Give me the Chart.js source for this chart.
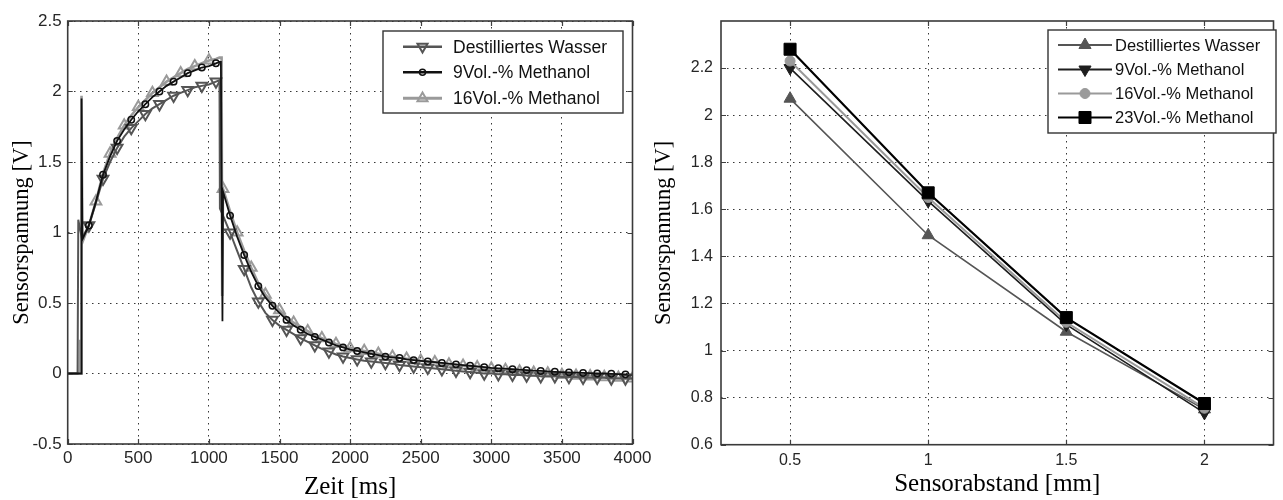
<!DOCTYPE html>
<html>
<head>
<meta charset="utf-8">
<script src="https://cdn.jsdelivr.net/npm/chart.js@4.4.1/dist/chart.umd.min.js"></script>
<style>
html,body{margin:0;padding:0;background:#fff;}
#wrap{position:relative;width:1283px;height:500px;overflow:hidden;background:#fff;}
#box1{position:absolute;left:0;top:0;width:660px;height:500px;}
#box2{position:absolute;left:650px;top:0;width:633px;height:500px;}
</style>
</head>
<body>
<div id="wrap">
  <div id="box1"><canvas id="c1"></canvas></div>
  <div id="box2"><canvas id="c2"></canvas></div>
</div>
<script>
// ---------- Left chart data (Zeit in ms, Sensorspannung in V) ----------
const zeit = [0,50,70,75,85,88,92,96,98,100,104,
  150,200,250,300,350,400,450,500,550,600,650,700,750,800,850,900,950,1000,1050,
  1075,1078,1085,1090,1094,1096,1100,
  1150,1200,1250,1300,1350,1400,1450,1500,1550,1600,
  1650,1700,1750,1800,1850,1900,1950,2000,2050,2100,
  2150,2200,2250,2300,2350,2400,2450,2500,2550,2600,
  2650,2700,2750,2800,2850,2900,2950,3000,3050,3100,
  3150,3200,3250,3300,3350,3400,3450,3500,3550,3600,
  3650,3700,3750,3800,3850,3900,3950,4000];

const wasserZeit = [0,0,0,1.09,null,null,null,null,null,0.96,null,
  1.05,1.21,1.38,1.50,1.60,1.68,1.74,1.79,1.84,1.88,1.91,1.94,1.97,1.99,2.01,2.03,2.04,2.05,2.07,
  2.08,1.17,null,null,null,null,1.12,
  1.0,0.87,0.74,0.61,0.51,0.43,0.38,0.34,0.31,0.28,
  0.25,0.225,0.20,0.175,0.155,0.135,0.12,0.11,0.10,0.09,
  0.085,0.08,0.075,0.07,0.06,0.055,0.05,0.045,0.04,0.035,
  0.03,0.025,0.02,0.015,0.01,0.005,0.0,0.0,-0.005,-0.005,
  -0.01,-0.01,-0.015,-0.015,-0.02,-0.02,-0.02,-0.025,-0.025,-0.025,
  -0.03,-0.03,-0.03,-0.03,-0.035,-0.035,-0.035,-0.035];

const methanol9Zeit = [0,0,0,null,null,null,null,0,1.95,null,0.95,
  1.05,1.22,1.41,1.54,1.65,1.73,1.80,1.86,1.91,1.96,2.00,2.04,2.07,2.10,2.13,2.15,2.17,2.18,2.20,
  2.21,null,2.21,null,null,0.37,1.29,
  1.12,0.97,0.84,0.72,0.62,0.54,0.48,0.43,0.38,0.34,
  0.31,0.28,0.26,0.24,0.22,0.20,0.185,0.17,0.16,0.15,
  0.14,0.13,0.12,0.115,0.11,0.10,0.095,0.09,0.085,0.08,
  0.075,0.07,0.065,0.06,0.055,0.05,0.045,0.04,0.037,0.034,
  0.03,0.027,0.024,0.02,0.018,0.015,0.012,0.01,0.008,0.006,
  0.004,0.002,0.0,0.0,-0.002,-0.004,-0.006,-0.008];

const methanol16Zeit = [0,0,0,null,0,0.24,0,0,1.97,null,0.93,
  1.05,1.22,1.42,1.56,1.67,1.76,1.83,1.89,1.94,1.99,2.03,2.07,2.10,2.13,2.16,2.18,2.20,2.22,2.23,
  2.24,null,2.24,2.24,0.55,null,1.31,
  1.15,1.0,0.87,0.75,0.64,0.56,0.50,0.45,0.40,0.36,
  0.33,0.30,0.27,0.25,0.23,0.21,0.195,0.18,0.17,0.16,
  0.15,0.14,0.13,0.12,0.11,0.105,0.10,0.09,0.085,0.08,
  0.07,0.065,0.06,0.055,0.05,0.045,0.04,0.035,0.03,0.025,
  0.02,0.015,0.01,0.005,0.0,0.0,-0.005,-0.01,-0.01,-0.015,
  -0.02,-0.02,-0.025,-0.025,-0.03,-0.03,-0.035,-0.035];

const zeitTicks = [0,500,1000,1500,2000,2500,3000,3500,4000];
const zeitTickLabels = ['0','500','1000','1500','2000','2500','3000','3500','4000'];
const spannungTicks1 = [-0.5,0,0.5,1,1.5,2,2.5];
const spannungTickLabels1 = ['-0.5','0','0.5','1','1.5','2','2.5'];
const legend1 = ['Destilliertes Wasser','9Vol.-% Methanol','16Vol.-% Methanol'];

// ---------- Right chart data (Sensorabstand in mm) ----------
const abstand = [0.5, 1, 1.5, 2];
const wasserAbstand = [2.07, 1.49, 1.08, 0.75];
const methanol9Abstand = [2.20, 1.635, 1.11, 0.735];
const methanol16Abstand = [2.23, 1.65, 1.12, 0.755];
const methanol23Abstand = [2.28, 1.67, 1.14, 0.775];
const abstandTicks = [0.5, 1, 1.5, 2];
const abstandTickLabels = ['0.5','1','1.5','2'];
const spannungTicks2 = [0.6,0.8,1,1.2,1.4,1.6,1.8,2,2.2];
const spannungTickLabels2 = ['0.6','0.8','1','1.2','1.4','1.6','1.8','2','2.2'];
const legend2 = ['Destilliertes Wasser','9Vol.-% Methanol','16Vol.-% Methanol','23Vol.-% Methanol'];

// ---------- helpers ----------
const SANS = "'Liberation Sans', Arial, sans-serif";
const SERIF = "'Liberation Serif', 'Times New Roman', serif";

function drawMarker(ctx, style, rot, r, x, y, fill, stroke, bw) {
  ctx.save();
  ctx.translate(x, y);
  ctx.rotate((rot || 0) * Math.PI / 180);
  ctx.beginPath();
  if (style === 'triangle') {
    ctx.moveTo(0, -r);
    ctx.lineTo(r * Math.sin(2 * Math.PI / 3), -r * Math.cos(2 * Math.PI / 3));
    ctx.lineTo(r * Math.sin(4 * Math.PI / 3), -r * Math.cos(4 * Math.PI / 3));
    ctx.closePath();
  } else if (style === 'rect') {
    const s = r * Math.SQRT1_2;
    ctx.rect(-s, -s, 2 * s, 2 * s);
  } else {
    ctx.arc(0, 0, r, 0, Math.PI * 2);
  }
  ctx.fillStyle = fill;
  ctx.fill();
  ctx.strokeStyle = stroke;
  ctx.lineWidth = bw;
  ctx.stroke();
  ctx.restore();
}

function framePlugin(cfg) {
  return {
    id: 'frame' + cfg.name,
    afterDraw(chart) {
      const ctx = chart.ctx, a = chart.chartArea, sx = chart.scales.x, sy = chart.scales.y;
      ctx.save();
      ctx.strokeStyle = '#404040';
      ctx.lineWidth = 1.2;
      ctx.beginPath();
      const L = 5;
      sx.ticks.forEach(t => {
        const p = Math.round(sx.getPixelForValue(t.value)) + 0.5;
        ctx.moveTo(p, a.bottom); ctx.lineTo(p, a.bottom - L);
        ctx.moveTo(p, a.top); ctx.lineTo(p, a.top + L);
      });
      sy.ticks.forEach(t => {
        const p = Math.round(sy.getPixelForValue(t.value)) + 0.5;
        ctx.moveTo(a.left, p); ctx.lineTo(a.left + L, p);
        ctx.moveTo(a.right, p); ctx.lineTo(a.right - L, p);
      });
      ctx.stroke();
      ctx.strokeStyle = '#3a3a3a';
      ctx.lineWidth = 1.6;
      ctx.strokeRect(a.left, a.top, a.right - a.left, a.bottom - a.top);
      const lg = cfg.legend;
      ctx.fillStyle = '#ffffff';
      ctx.fillRect(lg.x, lg.y, lg.w, lg.h);
      ctx.strokeStyle = '#333333';
      ctx.lineWidth = 1.4;
      ctx.strokeRect(lg.x, lg.y, lg.w, lg.h);
      ctx.font = lg.font;
      ctx.textBaseline = 'middle';
      ctx.textAlign = 'left';
      chart.data.datasets.forEach((ds, i) => {
        const y = lg.rows[i];
        ctx.strokeStyle = ds.borderColor;
        ctx.lineWidth = lg.lineWidth[i];
        ctx.beginPath();
        ctx.moveTo(lg.x1, y); ctx.lineTo(lg.x2, y);
        ctx.stroke();
        drawMarker(ctx, ds.pointStyle, ds.pointRotation, lg.radius[i], (lg.x1 + lg.x2) / 2, y,
          ds.pointBackgroundColor, ds.pointBorderColor, ds.pointBorderWidth);
        ctx.fillStyle = '#111111';
        ctx.fillText(ds.label, lg.tx, y + 1);
      });
      ctx.restore();
    }
  };
}

function fixedTicks(values) {
  return scale => { scale.ticks = values.map(v => ({ value: v })); };
}

Chart.defaults.animation = false;
Chart.defaults.devicePixelRatio = 1;

// ---------- Left chart ----------
function markerEvery(offset, r) {
  return ctx => {
    const t = zeit[ctx.dataIndex];
    return (t >= 100 && t % 100 === offset) ? r : 0;
  };
}
const toXY = arr => zeit.map((t, i) => ({ x: t, y: arr[i] }));

new Chart(document.getElementById('c1'), {
  type: 'line',
  data: {
    datasets: [
      { label: legend1[0], data: toXY(wasserZeit), borderColor: '#555555', borderWidth: 2,
        pointStyle: 'triangle', pointRotation: 180, pointRadius: markerEvery(50, 6.2),
        pointBackgroundColor: 'rgba(255,255,255,0)', pointBorderColor: '#555555', pointBorderWidth: 2,
        spanGaps: true, tension: 0, order: 2 },
      { label: legend1[1], data: toXY(methanol9Zeit), borderColor: '#111111', borderWidth: 1.8,
        pointStyle: 'circle', pointRotation: 0, pointRadius: markerEvery(50, 3.2),
        pointBackgroundColor: 'rgba(255,255,255,0)', pointBorderColor: '#111111', pointBorderWidth: 1.5,
        spanGaps: true, tension: 0, order: 1 },
      { label: legend1[2], data: toXY(methanol16Zeit), borderColor: '#9a9a9a', borderWidth: 2.6,
        pointStyle: 'triangle', pointRotation: 0, pointRadius: markerEvery(0, 6.2),
        pointBackgroundColor: 'rgba(255,255,255,0)', pointBorderColor: '#9a9a9a', pointBorderWidth: 2,
        spanGaps: true, tension: 0, order: 3 }
    ]
  },
  options: {
    responsive: true, maintainAspectRatio: false, animation: false,
    layout: { padding: { left: 0, top: 21, right: 27.5, bottom: 0 } },
    plugins: { legend: { display: false }, tooltip: { enabled: false } },
    elements: { point: { hoverRadius: 0 } },
    scales: {
      x: {
        type: 'linear', min: 0, max: 4000,
        afterBuildTicks: fixedTicks(zeitTicks),
        afterFit: s => { s.height = 56; },
        ticks: { padding: 4.5, color: '#262626', font: { family: SANS, size: 17 },
                 maxRotation: 0, autoSkip: false,
                 callback: (v, i) => zeitTickLabels[i] },
        grid: { color: 'rgba(20,20,20,0.85)', lineWidth: 1, drawTicks: false },
        border: { display: false, dash: [1.5, 4.5] },
        title: { display: true, text: 'Zeit [ms]', color: '#000',
                 font: { family: SERIF, size: 25, lineHeight: 1 }, padding: { top: 0, bottom: 0 } }
      },
      y: {
        type: 'linear', min: -0.5, max: 2.5,
        afterBuildTicks: fixedTicks(spannungTicks1),
        afterFit: s => { s.width = 67.7; },
        ticks: { padding: 6, color: '#262626', font: { family: SANS, size: 17 }, autoSkip: false,
                 callback: (v, i) => spannungTickLabels1[i] },
        grid: { color: 'rgba(20,20,20,0.85)', lineWidth: 1, drawTicks: false },
        border: { display: false, dash: [1.5, 4.5] },
        title: { display: true, text: 'Sensorspannung [V]', color: '#000',
                 font: { family: SERIF, size: 22.5, lineHeight: 1 }, padding: { top: 11, bottom: 0 } }
      }
    }
  },
  plugins: [framePlugin({
    name: 'L',
    legend: { x: 383, y: 31, w: 240, h: 82, rows: [46.7, 72.3, 98.3],
              x1: 403, x2: 442, tx: 453, font: '17.5px ' + SANS,
              lineWidth: [2.6, 2.6, 3], radius: [5.8, 3, 5.8] }
  })]
});

// ---------- Right chart ----------
const toXY2 = arr => abstand.map((d, i) => ({ x: d, y: arr[i] }));

new Chart(document.getElementById('c2'), {
  type: 'line',
  data: {
    datasets: [
      { label: legend2[0], data: toXY2(wasserAbstand), borderColor: '#555555', borderWidth: 1.6,
        pointStyle: 'triangle', pointRotation: 0, pointRadius: 7,
        pointBackgroundColor: '#555555', pointBorderColor: '#555555', pointBorderWidth: 1,
        tension: 0, order: 4 },
      { label: legend2[1], data: toXY2(methanol9Abstand), borderColor: '#1e1e1e', borderWidth: 1.6,
        pointStyle: 'triangle', pointRotation: 180, pointRadius: 7,
        pointBackgroundColor: '#1e1e1e', pointBorderColor: '#1e1e1e', pointBorderWidth: 1,
        tension: 0, order: 3 },
      { label: legend2[2], data: toXY2(methanol16Abstand), borderColor: '#9a9a9a', borderWidth: 2,
        pointStyle: 'circle', pointRotation: 0, pointRadius: 5,
        pointBackgroundColor: '#9a9a9a', pointBorderColor: '#9a9a9a', pointBorderWidth: 1,
        tension: 0, order: 2 },
      { label: legend2[3], data: toXY2(methanol23Abstand), borderColor: '#000000', borderWidth: 2.2,
        pointStyle: 'rect', pointRotation: 0, pointRadius: 8.5,
        pointBackgroundColor: '#000000', pointBorderColor: '#000000', pointBorderWidth: 1,
        tension: 0, order: 1 }
    ]
  },
  options: {
    responsive: true, maintainAspectRatio: false, animation: false,
    layout: { padding: { left: 0, top: 21, right: 1, bottom: 0 } },
    plugins: { legend: { display: false }, tooltip: { enabled: false } },
    elements: { point: { hoverRadius: 0 } },
    scales: {
      x: {
        type: 'linear', min: 0.25, max: 2.25,
        afterBuildTicks: fixedTicks(abstandTicks),
        afterFit: s => { s.height = 55.3; },
        ticks: { padding: 6, color: '#262626', font: { family: SANS, size: 16 },
                 maxRotation: 0, autoSkip: false,
                 callback: (v, i) => abstandTickLabels[i] },
        grid: { color: 'rgba(20,20,20,0.85)', lineWidth: 1, drawTicks: false },
        border: { display: false, dash: [1.5, 4.5] },
        title: { display: true, text: 'Sensorabstand [mm]', color: '#000',
                 font: { family: SERIF, size: 25, lineHeight: 1 }, padding: { top: 0, bottom: 3 } }
      },
      y: {
        type: 'linear', min: 0.6, max: 2.4,
        afterBuildTicks: fixedTicks(spannungTicks2),
        afterFit: s => { s.width = 71; },
        ticks: { padding: 8, color: '#262626', font: { family: SANS, size: 16 }, autoSkip: false,
                 callback: (v, i) => spannungTickLabels2[i] },
        grid: { color: 'rgba(20,20,20,0.85)', lineWidth: 1, drawTicks: false },
        border: { display: false, dash: [1.5, 4.5] },
        title: { display: true, text: 'Sensorspannung [V]', color: '#000',
                 font: { family: SERIF, size: 22.5, lineHeight: 1 }, padding: { top: 3, bottom: 0 } }
      }
    }
  },
  plugins: [framePlugin({
    name: 'R',
    legend: { x: 398, y: 30, w: 228, h: 103, rows: [45, 69.5, 93.5, 117.5],
              x1: 408, x2: 462, tx: 465, font: '16.5px ' + SANS,
              lineWidth: [2, 2, 2.2, 2.2], radius: [7, 7, 5, 8.5] }
  })]
});
</script>
</body>
</html>
